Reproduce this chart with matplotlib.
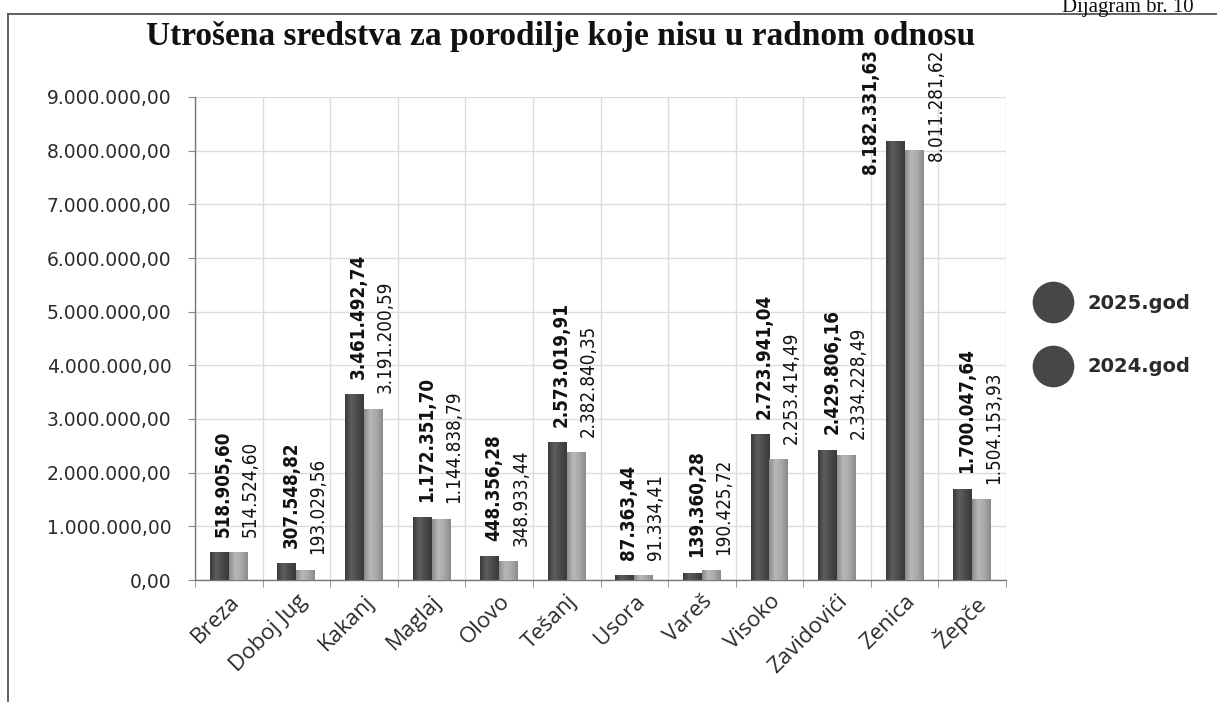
import matplotlib

matplotlib.use("Agg")
import matplotlib.pyplot as plt
import matplotlib.transforms as mtransforms
import numpy as np
from matplotlib.colors import LinearSegmentedColormap
from matplotlib.lines import Line2D

TITLE = "Utrošena sredstva za porodilje koje nisu u radnom odnosu"
CAPTION = "Dijagram br. 10"

municipalities = [
    "Breza", "Doboj Jug", "Kakanj", "Maglaj", "Olovo", "Tešanj",
    "Usora", "Vareš", "Visoko", "Zavidovići", "Zenica", "Žepče",
]
spent_2025 = [
    518905.60, 307548.82, 3461492.74, 1172351.70, 448356.28, 2573019.91,
    87363.44, 139360.28, 2723941.04, 2429806.16, 8182331.63, 1700047.64,
]
spent_2024 = [
    514524.60, 193029.56, 3191200.59, 1144838.79, 348933.44, 2382840.35,
    91334.41, 190425.72, 2253414.49, 2334228.49, 8011281.62, 1504153.93,
]
series_labels = ["2025.god", "2024.god"]
y_ticks = np.arange(0, 9_000_001, 1_000_000)

DARK = "#505050"
LIGHT = "#a3a3a3"
TEXT = "#2b2b2b"
W = 1217
H = 702

# cylinder-like shading as in the scanned Excel chart
dark_cmap = LinearSegmentedColormap.from_list("d", ["#3a3a3a", "#5e5e5e", "#4a4a4a", "#3a3a3a"])
light_cmap = LinearSegmentedColormap.from_list("l", ["#8c8c8c", "#b8b8b8", "#a8a8a8", "#8a8a8a"])


def bs_format(v):
    # 1234567.8 -> 1.234.567,80
    s = f"{v:,.2f}"
    return s.replace(",", "X").replace(".", ",").replace("X", ".")


def shade_bars(ax, bars, cmap):
    grad = np.linspace(0, 1, 64).reshape(1, -1)
    for bar in bars:
        x0, y0 = bar.get_xy()
        img = ax.imshow(
            grad, cmap=cmap, aspect="auto", zorder=3.5,
            extent=[x0, x0 + bar.get_width(), y0, y0 + bar.get_height()],
        )
        img.set_clip_path(bar)


fig = plt.figure(figsize=(W / 100, H / 100), dpi=100)
ax = fig.add_axes([195 / W, 1 - 580 / H, (1006 - 195) / W, (580 - 97) / H])

x = np.arange(len(municipalities))
bw = 0.28
bars25 = ax.bar(x - bw / 2, spent_2025, bw, color=DARK, zorder=3)
bars24 = ax.bar(x + bw / 2, spent_2024, bw, color=LIGHT, zorder=3)
shade_bars(ax, bars25, dark_cmap)
shade_bars(ax, bars24, light_cmap)

ax.set_xlim(-0.5, len(municipalities) - 0.5)
ax.set_ylim(0, 9_000_000)
ax.set_yticks(y_ticks)
ax.set_yticklabels([bs_format(v) for v in y_ticks], fontsize=13.5, color=TEXT)
ax.tick_params(axis="y", length=5, width=0.8, color="#888888", pad=12)

ax.set_xticks(x)
ax.set_xticklabels(
    municipalities, rotation=45, ha="right", rotation_mode="anchor",
    fontsize=16, family="Open Sans", color=TEXT,
)
shift = mtransforms.ScaledTranslation(16 / 72, 0, fig.dpi_scale_trans)
for lbl in ax.get_xticklabels():
    lbl.set_transform(lbl.get_transform() + shift)
ax.tick_params(axis="x", which="major", length=0, pad=8)
ax.set_xticks(np.arange(-0.5, len(municipalities), 1), minor=True)
ax.tick_params(axis="x", which="minor", length=5, color="#888888")

ax.yaxis.grid(True, color="#dcdcdc", lw=1.0, zorder=0)
ax.xaxis.grid(True, which="minor", color="#dcdcdc", lw=1.0, zorder=0)
ax.set_axisbelow(True)
for side in ["top", "right"]:
    ax.spines[side].set_visible(False)
for side in ["left", "bottom"]:
    ax.spines[side].set_color("#777777")
    ax.spines[side].set_linewidth(1.0)

label_font = dict(family="DejaVu Sans", fontstretch="condensed", fontsize=13.5, color="#111111")
top_trans = mtransforms.blended_transform_factory(ax.transData, ax.transAxes)
for i, (v25, v24) in enumerate(zip(spent_2025, spent_2024)):
    if municipalities[i] == "Zenica":
        # tallest pair: labels sit beside the bars, hanging from the top
        ax.text(i - bw / 2 - 0.36, 1.10, bs_format(v25), transform=top_trans,
                rotation=90, ha="center", va="top", fontweight="bold",
                clip_on=False, **label_font)
        ax.text(i + bw / 2 + 0.33, 1.10, bs_format(v24), transform=top_trans,
                rotation=90, ha="center", va="top", clip_on=False, **label_font)
        continue
    ax.annotate(bs_format(v25), (i - bw / 2 + 0.06, v25), xytext=(0, 11),
                textcoords="offset points", rotation=90, ha="center",
                va="bottom", fontweight="bold", annotation_clip=False,
                **label_font)
    ax.annotate(bs_format(v24), (i + bw / 2 + 0.18, v24), xytext=(0, 11),
                textcoords="offset points", rotation=90, ha="center",
                va="bottom", annotation_clip=False, **label_font)

handles = [
    Line2D([], [], marker="o", ls="", markersize=29, color="#474747")
    for _ in series_labels
]
leg = ax.legend(
    handles, series_labels, loc="center left",
    bbox_to_anchor=(1016 / W, 1 - 335 / H), bbox_transform=fig.transFigure,
    frameon=False, labelspacing=2.3, handletextpad=0.8,
    prop=dict(family="DejaVu Sans", weight="bold", size=14),
)
for t in leg.get_texts():
    t.set_color(TEXT)

fig.text(561 / W, 1 - 36 / H, TITLE, ha="center", va="center",
         family="Liberation Serif", fontweight="bold", fontsize=24, color="#111111")
fig.text(1062 / W, 1 - 12 / H, CAPTION, ha="left", va="baseline",
         family="Liberation Serif", fontsize=15, color="#111111")

# page frame from the scanned report
fig.add_artist(Line2D([8 / W, 1], [1 - 14 / H, 1 - 14 / H],
                      transform=fig.transFigure, color="#555555", lw=1.3))
fig.add_artist(Line2D([8 / W, 8 / W], [0, 1 - 14 / H],
                      transform=fig.transFigure, color="#555555", lw=1.3))

fig.savefig("out.png", dpi=100)
